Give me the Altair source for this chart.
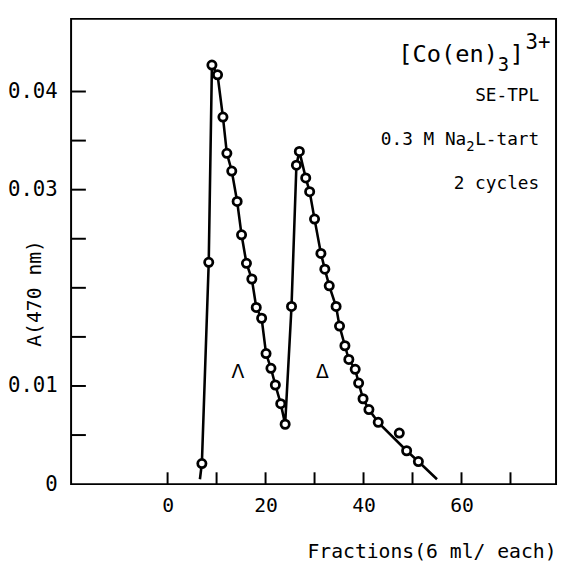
import altair as alt
import pandas as pd

# measured points (fraction number, absorbance at 470 nm)
pt_x = [7.0, 8.4, 9.05, 10.2, 11.3, 12.1, 13.1, 14.2, 15.1, 16.1, 17.2, 18.1, 19.2,
        20.1, 21.1, 22.0, 23.1, 24.0, 25.3, 26.3, 26.9, 28.2, 29.0, 30.0, 31.3, 32.1,
        33.0, 34.4, 35.1, 36.2, 37.0, 38.3, 39.0, 39.9, 41.1, 43.0, 47.3, 48.8, 51.2]
pt_y = [0.0021, 0.0226, 0.0427, 0.0417, 0.0374, 0.0337, 0.0319, 0.0288, 0.0254, 0.0225,
        0.0209, 0.0180, 0.0169, 0.0133, 0.0118, 0.0101, 0.0082, 0.0061, 0.0181, 0.0325,
        0.0339, 0.0312, 0.0298, 0.0270, 0.0235, 0.0219, 0.0202, 0.0181, 0.0161, 0.0141,
        0.0127, 0.0117, 0.0103, 0.0087, 0.0076, 0.0063, 0.0052, 0.0034, 0.0023]

# hand-drawn curve through the points
line_x = [6.6, 7.0, 8.4, 9.05, 10.2, 11.3, 12.1, 13.1, 14.2, 15.1, 16.1, 17.2, 18.1, 19.2,
          20.1, 21.1, 22.0, 23.1, 24.0, 25.3, 26.3, 26.9, 28.2, 29.0, 30.0, 31.3, 32.1,
          33.0, 34.4, 35.1, 36.2, 37.0, 38.3, 39.0, 39.9, 41.1, 43.0, 48.8, 51.2, 55.0]
line_y = [0.0005, 0.0021, 0.0226, 0.0427, 0.0417, 0.0374, 0.0337, 0.0319, 0.0288, 0.0254,
          0.0225, 0.0209, 0.0180, 0.0169, 0.0133, 0.0118, 0.0101, 0.0082, 0.0061, 0.0181,
          0.0325, 0.0339, 0.0312, 0.0298, 0.0270, 0.0235, 0.0219, 0.0202, 0.0181, 0.0161,
          0.0141, 0.0127, 0.0117, 0.0103, 0.0087, 0.0076, 0.0063, 0.0034, 0.0023, 0.0005]

x_ticks = [0, 10, 20, 30, 40, 50, 60, 70]
x_labels = [0, 20, 40, 60]
y_ticks = [0.005, 0.01, 0.015, 0.02, 0.025, 0.03, 0.035, 0.04]
y_labels = [0, 0.01, 0.03, 0.04]

FONT = "DejaVu Sans Mono"
W, H = 492, 472

pts = pd.DataFrame({"x": pt_x, "y": pt_y})
crv = pd.DataFrame({"x": line_x, "y": line_y})

xs = alt.Scale(domain=[-19.7, 79.3], nice=False, zero=False)
ys = alt.Scale(domain=[0, 0.0474], nice=False, zero=False)

xax = alt.Axis(values=x_labels, ticks=False, domain=False, grid=False, labelFont=FONT,
               labelFontSize=20, labelColor="black", labelPadding=12,
               title="Fractions(6 ml/ each)", titleFont=FONT, titleFontSize=20,
               titleFontWeight="normal", titleColor="black", titleAnchor="end",
               titleAlign="right", titleBaseline="middle", titleY=68, titleX=W)
yax = alt.Axis(values=y_labels, ticks=False, domain=False, grid=False, labelFont=FONT,
               labelFontSize=21, labelColor="black", labelPadding=14,
               labelExpr="datum.value == 0 ? '0' : format(datum.value, '.2f')",
               title="A(470 nm)", titleFont=FONT, titleFontSize=20, titleFontWeight="normal",
               titleColor="black", titleAngle=270, titleAlign="center", titleBaseline="middle",
               titleX=-37, titleY=278)

line = alt.Chart(crv).mark_line(color="black", strokeWidth=2.6).encode(
    x=alt.X("x:Q", scale=xs, axis=xax), y=alt.Y("y:Q", scale=ys, axis=yax), order="x:Q")
points = alt.Chart(pts).mark_point(shape="circle", filled=False, fill="white", fillOpacity=1,
                                   color="black", strokeWidth=2.8, size=70, opacity=1).encode(
    x=alt.X("x:Q", scale=xs), y=alt.Y("y:Q", scale=ys))

xt = alt.Chart(pd.DataFrame({"t": x_ticks})).mark_rule(color="black", strokeWidth=2).encode(
    x=alt.X("t:Q", scale=xs), y=alt.value(H), y2=alt.value(H - 12))
yt = alt.Chart(pd.DataFrame({"t": y_ticks})).mark_rule(color="black", strokeWidth=2).encode(
    y=alt.Y("t:Q", scale=ys), x=alt.value(0), x2=alt.value(15))

def txt(s, x, y, size=18, align="left", dx=0, dy=0, font=FONT):
    return alt.Chart(pd.DataFrame({"s": [s]})).mark_text(
        font=font, fontSize=size, align=align, baseline="middle", color="black", dx=dx, dy=dy
    ).encode(x=alt.datum(x, scale=xs), y=alt.datum(y, scale=ys), text="s:N")

RX = 75.86   # right edge of the annotation block
CX = 47.1    # left edge of the complex formula
ann = [
    txt("[Co(en)", CX, 0.0437, 24),
    txt("3", CX, 0.0437, 19, dx=101, dy=10),
    txt("]", CX, 0.0437, 24, dx=113),
    txt("3+", CX, 0.0437, 21, dx=129, dy=-12),
    txt("SE-TPL", RX, 0.0395, 18, align="right"),
    txt("0.3 M  Na", RX, 0.0351, 18, align="right", dx=-74),
    txt("2", RX, 0.0351, 14, align="right", dx=-65.5, dy=8),
    txt("L-tart", RX, 0.0351, 18, align="right"),
    txt("2 cycles", RX, 0.0306, 18, align="right"),
    txt("Λ", 14.35, 0.01145, 19, align="center", font="DejaVu Sans"),
    txt("Δ", 31.6, 0.01145, 19, align="center", font="DejaVu Sans"),
]

chart = alt.layer(line, points, xt, yt, *ann).properties(
    width=W, height=H, autosize=alt.AutoSizeParams(type="none"),
    padding={"left": 64, "top": 7, "right": 3, "bottom": 78}
).configure_view(stroke="black", strokeWidth=2)

chart.save("out.html", embed_options={"renderer": "svg", "actions": False})
